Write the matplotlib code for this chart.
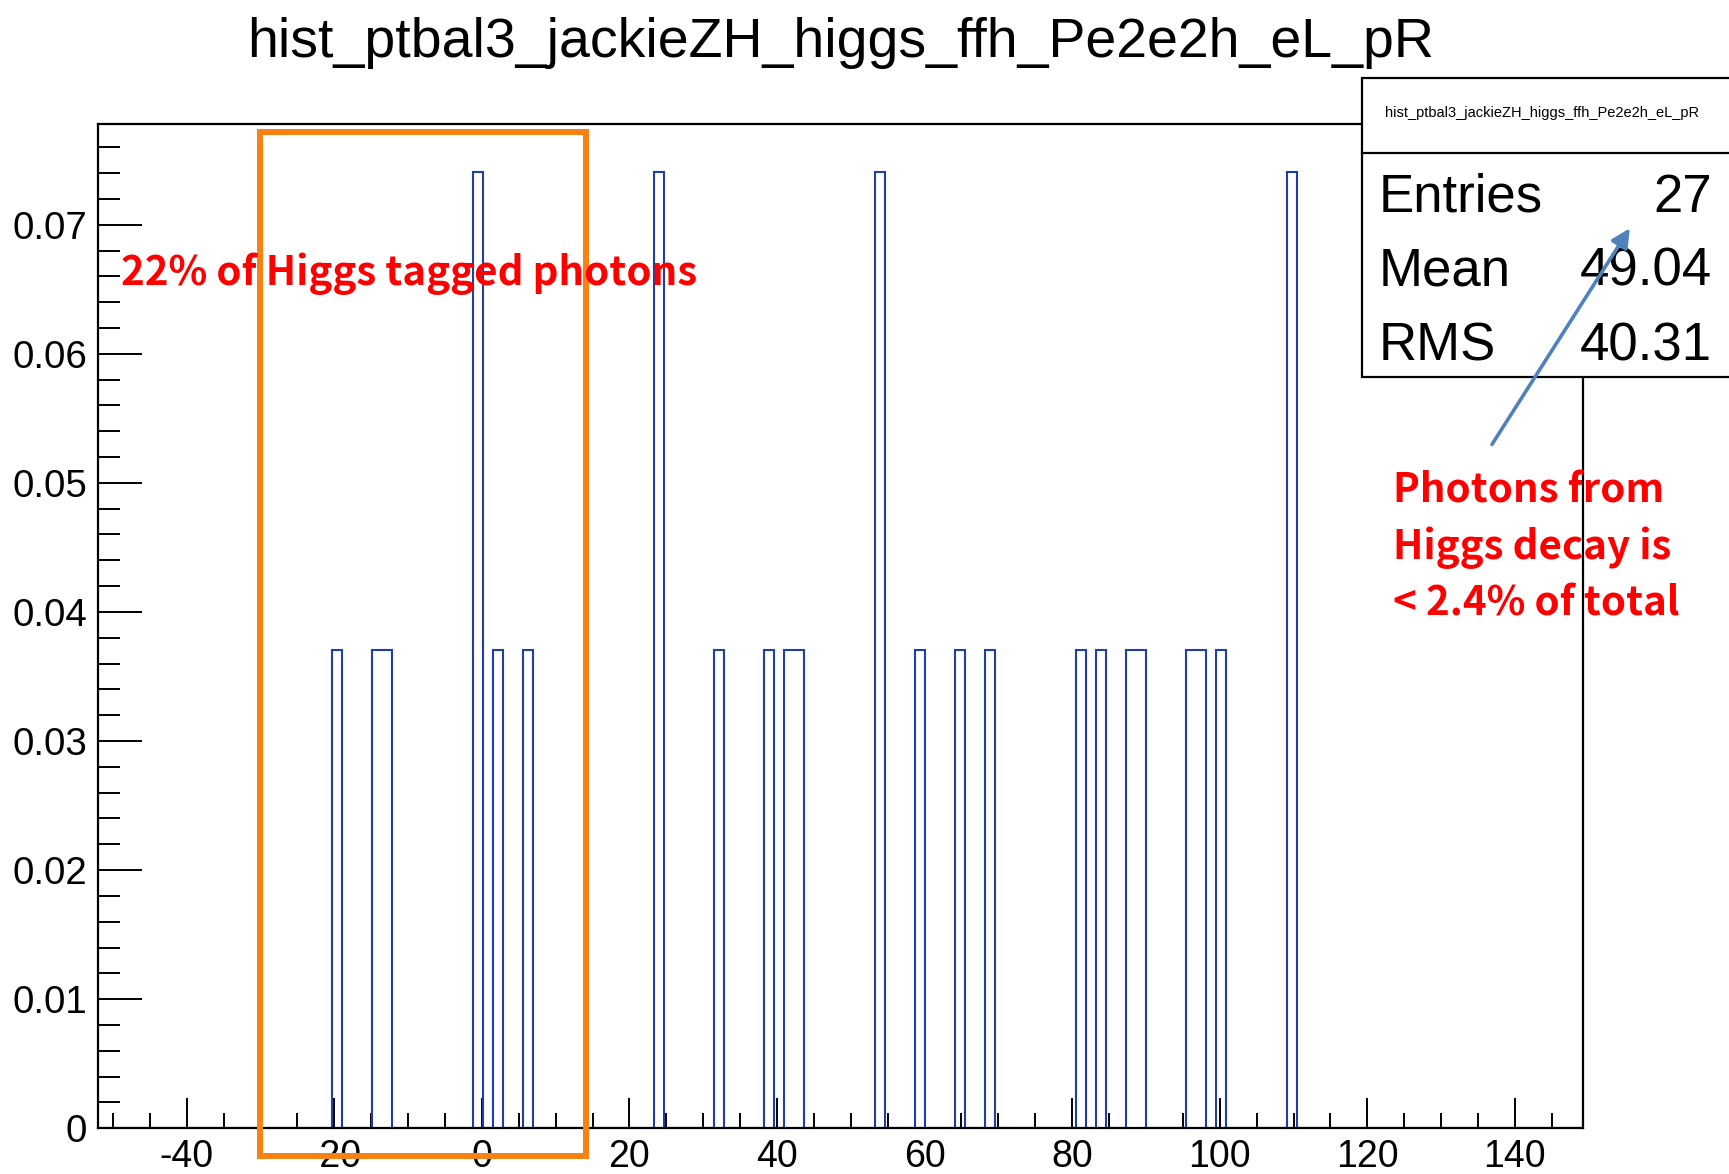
import numpy as np
import matplotlib
matplotlib.use("Agg")
from matplotlib import pyplot as plt
from matplotlib.patches import Rectangle, FancyArrowPatch
from matplotlib.lines import Line2D

plt.rcParams['font.family'] = ['Liberation Sans', 'DejaVu Sans']
plt.rcParams['axes.unicode_minus'] = False

# photon pT balance, one value per entry (27 entries)
ptbal = [-19.5, -13.8, -12.45, -0.45, -0.45, 2.0, 6.8, 23.9, 23.9, 32.3,
         39.45, 41.8, 43.2, 54.0, 54.0, 59.5, 65.35, 68.7, 81.2, 83.65,
         88.2, 89.6, 95.8, 97.1, 99.8, 109.9, 109.9]

# binning of the histogram
nbins = 150
bin_lo = -53.0
bin_w = 1.362

# axis ticks
xticks = [-40, -20, 0, 20, 40, 60, 80, 100, 120, 140]
xticklabels = ['-40', '-20', '0', '20', '40', '60', '80', '100', '120', '140']
yticks = [0.0, 0.01, 0.02, 0.03, 0.04, 0.05, 0.06, 0.07]
yticklabels = ['0', '0.01', '0.02', '0.03', '0.04', '0.05', '0.06', '0.07']

hist_name = 'hist_ptbal3_jackieZH_higgs_ffh_Pe2e2h_eL_pR'
stat_names = ['Entries', 'Mean', 'RMS']
stat_values = ['27', '49.04', '40.31']

note_left = '22% of Higgs tagged photons'
note_right = ['Photons from', 'Higgs decay is', '< 2.4% of total']

W, H = 1729, 1174
fig = plt.figure(figsize=(W / 100, H / 100), dpi=100)
fig.patch.set_facecolor('white')

ax = fig.add_axes([98.3 / W, 1 - 1128.3 / H, (1583.3 - 98.3) / W, (1128.3 - 124) / H])

edges = bin_lo + bin_w * np.arange(nbins + 1)
weights = np.full(len(ptbal), 1.0 / len(ptbal))
ax.hist(ptbal, bins=edges, weights=weights, histtype='step',
        color='#1f3fa6', lw=1.5, zorder=2)

ax.set_xlim(-51.98, 149.27)
ax.set_ylim(0, 0.0778)

ax.set_xticks(xticks)
ax.set_xticklabels(xticklabels)
ax.set_xticks(np.arange(-50, 150, 5), minor=True)
ax.set_yticks(yticks)
ax.set_yticklabels(yticklabels)
ax.set_yticks(np.arange(0, 0.0771, 0.002), minor=True)

ax.tick_params(axis='both', which='both', direction='in', width=1.4,
               colors='black', top=False, right=False)
ax.tick_params(axis='x', which='major', length=21.6, pad=8, labelsize=27)
ax.tick_params(axis='x', which='minor', length=10.5)
ax.tick_params(axis='y', which='major', length=32, pad=8, labelsize=27.7)
ax.tick_params(axis='y', which='minor', length=16)
for sp in ax.spines.values():
    sp.set_linewidth(1.6)

# title
fig.text(841 / W, 1 - 57 / H, hist_name, ha='center', va='baseline',
         fontsize=40, color='black')

# stats box
fig.add_artist(Rectangle((1361.7 / W, 1 - 376.7 / H), 0.3, (376.7 - 78.3) / H,
                         transform=fig.transFigure, facecolor='white',
                         edgecolor='black', lw=1.6, zorder=5))
fig.add_artist(Line2D([1361.7 / W, 1.0], [1 - 153.3 / H] * 2,
                      transform=fig.transFigure, color='black', lw=1.6, zorder=6))
fig.text(1542 / W, 1 - 113.3 / H, hist_name, ha='center', va='center',
         fontsize=10.5, color='black', zorder=7)
for i, (name, val) in enumerate(zip(stat_names, stat_values)):
    yb = 1 - (211.7 + 74.2 * i) / H
    fig.text(1378.3 / W, yb, name, ha='left', va='baseline', fontsize=38, zorder=7)
    fig.text(1712 / W, yb, val, ha='right', va='baseline', fontsize=38, zorder=7)

# highlighted region
ax.add_patch(Rectangle((-30.07, -0.00211), 44.22, 0.07928, fill=False,
                       edgecolor='#f98012', lw=4.3, clip_on=False, zorder=8))

red_font = dict(family=['Noto Sans CJK JP', 'DejaVu Sans'], fontweight='bold',
                fontsize=29, color='#ff0000')
fig.text(121.3 / W, 1 - 284.5 / H, note_left, ha='left', va='baseline',
         zorder=9, **red_font)
for i, line in enumerate(note_right):
    fig.text(1392.7 / W, 1 - (502.8 + 56.3 * i) / H, line, ha='left',
             va='baseline', zorder=9, **red_font)

# arrow pointing at the stats box
fig.add_artist(FancyArrowPatch((1492 / W, 1 - 444.4 / H), (1629.8 / W, 1 - 228.3 / H),
                               transform=fig.transFigure, arrowstyle='-|>',
                               color='#4f81bd', lw=2.6, mutation_scale=28,
                               shrinkA=0, shrinkB=0, zorder=10))

fig.savefig('out.png', dpi=100)
